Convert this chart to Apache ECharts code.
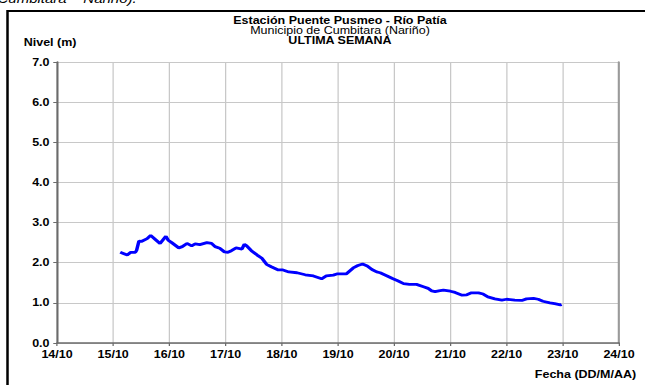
<!DOCTYPE html>
<html>
<head>
<meta charset="utf-8">
<script src="https://cdn.jsdelivr.net/npm/echarts@6/dist/echarts.min.js"></script>
<style>
  html, body { margin: 0; padding: 0; background: #fff; overflow: hidden; }
  /* The chart is laid out narrower and stretched horizontally to 645px */
  #chart { width: 516px; height: 385px; transform: scaleX(1.25); transform-origin: 0 0; }
</style>
</head>
<body>
<div id="chart"></div>
<script>
// Nivel del río (m) registrado en la estación durante la última semana
const fechas = [
  "15/10 03:00", "15/10 06:00", "15/10 07:30", "15/10 09:30", "15/10 10:00", "15/10 11:00",
  "15/10 12:00", "15/10 14:30", "15/10 16:00", "15/10 18:00", "15/10 20:00", "15/10 22:30",
  "15/10 23:30", "16/10 01:00", "16/10 04:00", "16/10 05:30", "16/10 07:30", "16/10 09:30",
  "16/10 11:00", "16/10 13:00", "16/10 16:00", "16/10 18:00", "16/10 19:30", "16/10 21:30",
  "16/10 23:30", "17/10 01:00", "17/10 02:30", "17/10 04:30", "17/10 07:00", "17/10 08:00",
  "17/10 09:00", "17/10 11:00", "17/10 13:30", "17/10 15:30", "17/10 17:30", "17/10 19:30",
  "17/10 22:30", "18/10 00:30", "18/10 03:00", "18/10 06:30", "18/10 10:00", "18/10 13:30",
  "18/10 17:00", "18/10 19:00", "18/10 22:00", "18/10 23:30", "19/10 03:30", "19/10 06:30",
  "19/10 08:30", "19/10 10:30", "19/10 12:30", "19/10 14:30", "19/10 16:30", "19/10 18:00",
  "19/10 21:00", "19/10 23:30", "20/10 01:30", "20/10 04:00", "20/10 06:30", "20/10 09:30",
  "20/10 12:30", "20/10 14:30", "20/10 16:00", "20/10 17:30", "20/10 19:00", "20/10 21:00",
  "21/10 00:00", "21/10 02:00", "21/10 05:00", "21/10 07:00", "21/10 09:00", "21/10 12:00",
  "21/10 14:00", "21/10 16:00", "21/10 19:00", "21/10 22:00", "22/10 00:00", "22/10 03:30",
  "22/10 06:30", "22/10 08:30", "22/10 11:30", "22/10 13:30", "22/10 15:30", "22/10 18:30",
  "22/10 20:30", "22/10 23:00", "22/10 23:30"
];
const nivel = [
  2.26, 2.19, 2.26, 2.26, 2.31, 2.54,
  2.53, 2.60, 2.68, 2.58, 2.48, 2.66,
  2.56, 2.50, 2.37, 2.40, 2.48, 2.42,
  2.47, 2.45, 2.50, 2.48, 2.40, 2.36,
  2.27, 2.26, 2.30, 2.37, 2.34, 2.46,
  2.42, 2.30, 2.19, 2.11, 1.96, 1.90,
  1.82, 1.82, 1.77, 1.75, 1.70, 1.67,
  1.60, 1.67, 1.69, 1.72, 1.72, 1.87,
  1.93, 1.97, 1.92, 1.83, 1.77, 1.75,
  1.67, 1.60, 1.55, 1.48, 1.46, 1.46,
  1.40, 1.36, 1.30, 1.28, 1.30, 1.32,
  1.29, 1.26, 1.19, 1.20, 1.25, 1.25,
  1.22, 1.15, 1.10, 1.07, 1.09, 1.07,
  1.06, 1.10, 1.11, 1.09, 1.04, 1.00,
  0.98, 0.95, 0.96
];
// Eje de fechas: días 14/10 a 24/10
const diaInicial = 14;
const diaFinal = 24;
const mes = 10;
const nivelMax = 7;

// Horas transcurridas desde el 14/10 00:00
function horas(f) {
  const [d, t] = f.split(" ");
  const dia = parseInt(d.split("/")[0], 10);
  const [hh, mm] = t.split(":").map(Number);
  return (dia - diaInicial) * 24 + hh + mm / 60;
}
const serie = fechas.map((f, i) => [horas(f), nivel[i]]);

const fuente = "'Liberation Sans', Arial, sans-serif";
const chart = echarts.init(document.getElementById("chart"), null, { renderer: "svg" });

// Estilo común de las tres líneas del título
const estiloTitulo = (peso) => ({
  fontFamily: fuente, fontSize: 10, lineHeight: 10, fontWeight: peso, color: "#000"
});

chart.setOption({
  animation: false,
  backgroundColor: "#ffffff",
  title: [
    { text: "Estación Puente Pusmeo - Río Patía", left: 272, top: 15, padding: 0, textAlign: "center",
      textStyle: estiloTitulo("bold") },
    { text: "Municipio de Cumbitara (Nariño)", left: 272, top: 25, padding: 0, textAlign: "center",
      textStyle: estiloTitulo("normal") },
    { text: "ULTIMA SEMANA", left: 272, top: 35, padding: 0, textAlign: "center",
      textStyle: estiloTitulo("bold") },
    { text: "Nivel (m)", left: 14, top: 32,
      textStyle: { fontFamily: fuente, fontSize: 10, fontWeight: "bold", color: "#000" } },
    { text: "Fecha (DD/M/AA)", right: 2, top: 364,
      textStyle: { fontFamily: fuente, fontSize: 10, fontWeight: "bold", color: "#000" } }
  ],
  graphic: [
    { type: "text", left: -2, top: -7,
      style: { text: "Cumbitara – Nariño).", font: "italic 12px 'Liberation Sans', Arial, sans-serif", fill: "#000" } },
    { type: "rect", shape: { x: 6, y: 11, width: 540, height: 400 },
      style: { fill: "none", stroke: "#000", lineWidth: 2 } }
  ],
  grid: { left: 45.6, right: 20.8, top: 62, bottom: 42, containLabel: false },
  xAxis: {
    type: "value",
    min: 0,
    max: (diaFinal - diaInicial) * 24,
    interval: 24,
    axisLine: { show: true, onZero: false, lineStyle: { color: "#6b6b6b", width: 1.6 } },
    axisTick: { show: true, length: 3, lineStyle: { color: "#6b6b6b", width: 1 } },
    axisLabel: {
      margin: 6,
      fontFamily: fuente, fontSize: 10, fontWeight: "bold", color: "#000",
      formatter: v => (diaInicial + Math.round(v / 24)) + "/" + mes
    },
    splitLine: { show: true, lineStyle: { color: "#c8c8c8", width: 1 } }
  },
  yAxis: [
    {
      type: "value",
      min: 0,
      max: nivelMax,
      interval: 1,
      axisLine: { show: true, lineStyle: { color: "#6b6b6b", width: 1.6 } },
      axisTick: { show: true, length: 3, lineStyle: { color: "#6b6b6b", width: 1 } },
      axisLabel: {
        margin: 6,
        fontFamily: fuente, fontSize: 10, fontWeight: "bold", color: "#000",
        formatter: v => v.toFixed(1)
      },
      splitLine: { show: true, lineStyle: { color: "#c8c8c8", width: 1 } }
    },
    {
      type: "value",
      position: "right",
      min: 0,
      max: nivelMax,
      interval: 1,
      axisLine: { show: true, lineStyle: { color: "#9a9a9a", width: 1.6 } },
      axisTick: { show: false },
      axisLabel: { show: false },
      splitLine: { show: false }
    }
  ],
  series: [
    {
      type: "line",
      data: serie,
      showSymbol: false,
      symbol: "none",
      lineStyle: { color: "#0000ff", width: 2.8 },
      z: 5
    }
  ]
});
</script>
</body>
</html>
